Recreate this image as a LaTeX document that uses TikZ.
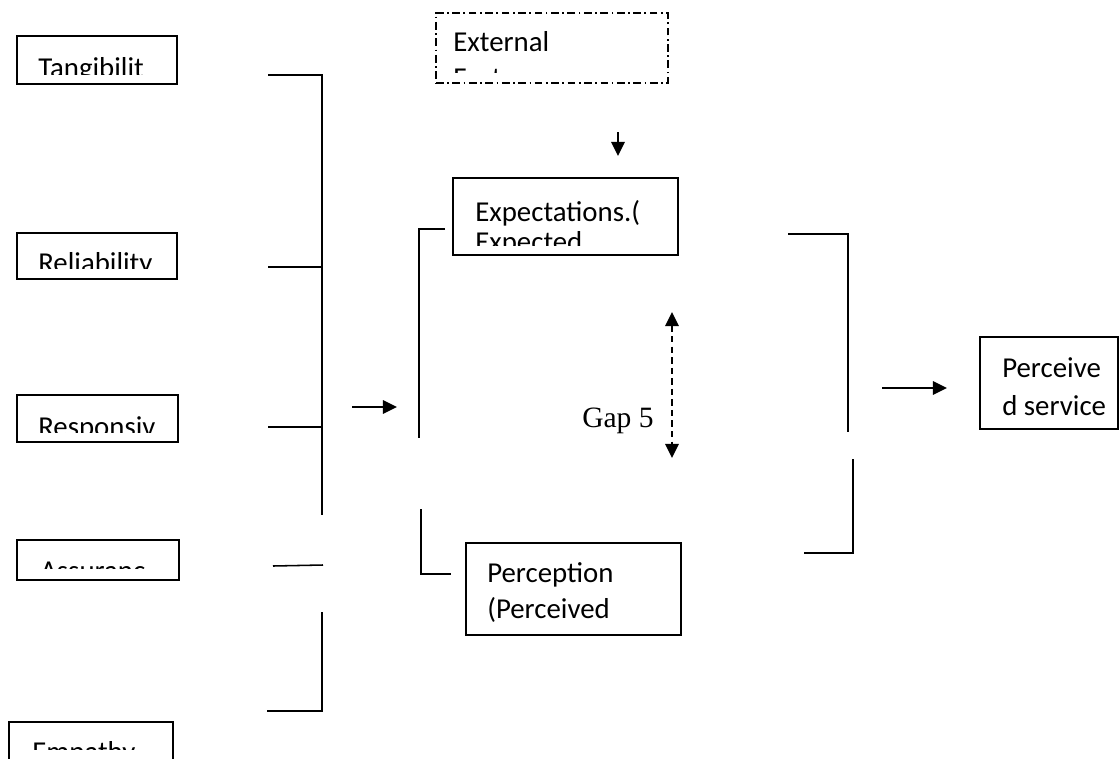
\documentclass[tikz,border=0pt]{standalone}
\usepackage{fontspec}
\setmainfont{Carlito}
\newfontfamily\gapfont{Liberation Serif}
\usetikzlibrary{positioning,arrows.meta,fit}

\begin{document}
\begin{tikzpicture}[
  x=0.025cm, y=-0.025cm,
  box/.style={draw, line width=1pt, inner sep=0pt},
  lbl/.style={anchor=base west, inner sep=0pt, align=left, font=\fontsize{20.5}{25}\selectfont},
  brk/.style={line width=1.1pt},
  >={Triangle[length=10pt,width=9.5pt]}
]
  \useasboundingbox (0,0) rectangle (1120,758);

  % Service quality dimensions
  \foreach \n/\t/\xa/\ya/\xb/\yb/\tx/\ty/\cy in {
      tang/Tangibilit/17/36/177/84/38/77/74,
      reli/Reliability/17/233/177/279/38/272/268,
      resp/Responsiv/17/395/178/442/38/436/432,
      assu/Assuranc/17/540/179/580/40/580/568,
      empa/Empathy/9/722/173/790/32/761/749} {
    \node[box, fit={(\xa,\ya) (\xb,\yb)}] (\n) {};
    \begin{scope}
      \clip (\xa,\ya) rectangle (\xb,\cy);
      \node[lbl] at (\tx,\ty) {\t};
    \end{scope}
  }

  % External factors
  \node[box, dash pattern=on 5.5pt off 2.5pt on 1.2pt off 2.5pt, fit={(436,13) (668,83)}] (extf) {};
  \begin{scope}
    \clip (436,13) rectangle (668,72);
    \node[lbl] at (453,87) {External\\Factors};
  \end{scope}

  % Expectations and perception
  \node[box, fit={(453,178) (678,255)}] (expc) {};
  \begin{scope}
    \clip (453,178) rectangle (678,245);
    \node[lbl] at (475,251) {Expectations.(\\[-4pt]Expected};
  \end{scope}
  \node[box, fit={(466,543) (681,635)}] (perc) {};
  \node[lbl] at (487,618) {Perception\\(Perceived};

  % Result
  \node[box, fit={(980,337) (1118,429)}] (psrv) {};
  \node[lbl] at (1002,415) {Perceive\\[2pt]d service};

  \node[anchor=base west, inner sep=0pt, font=\gapfont\fontsize{21}{25}\selectfont] (gap) at (582,427) {Gap 5};

  % Brackets
  \draw[brk] (268,75) -- (322,75) -- (322,515);
  \draw[brk] (268,267) -- (322,267);
  \draw[brk] (268,427) -- (322,427);
  \draw[brk] (273,566) -- (323,565);
  \draw[brk] (322,612) -- (322,711) -- (267,711);
  \draw[brk] (445,229) -- (419,229) -- (419,438);
  \draw[brk] (421,509) -- (421,574) -- (451,574);
  \draw[brk] (788,234) -- (848,234) -- (848,432);
  \draw[brk] (853,459) -- (853,553) -- (804,553);

  % Arrows
  \coordinate (inA) at (352,407);
  \coordinate (inB) at (397,407);
  \coordinate (exA) at (618,132);
  \coordinate (exB) at (618,156);
  \coordinate (gpA) at (672,312);
  \coordinate (gpB) at (672,458);
  \coordinate (ouA) at (882,388);
  \coordinate (ouB) at (947,388);
  \draw[->, line width=1.4pt] (inA) -- (inB);
  \draw[->, line width=1.4pt] (exA) -- (exB);
  \draw[<->, line width=1.4pt, dash pattern=on 4.5pt off 3pt] (gpA) -- (gpB);
  \draw[->, line width=1.4pt] (ouA) -- (ouB);
\end{tikzpicture}
\end{document}
